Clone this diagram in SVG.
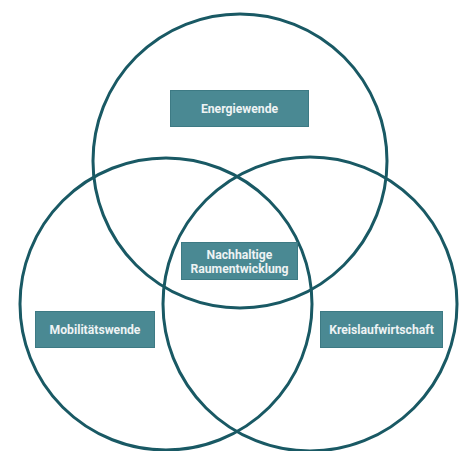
<svg xmlns="http://www.w3.org/2000/svg" width="465" height="451" viewBox="0 0 465 451">
  <style>
    .ring { fill: none; stroke: #195964; stroke-width: 3; }
    .box { fill: #4a8993; stroke: #3d7a84; stroke-width: 1; }
    .lbl { font-family: Roboto, "Liberation Sans", sans-serif; font-weight: bold; font-size: 12.2px; fill: #eef3f4; text-anchor: middle; }
  </style>
  <rect width="465" height="451" fill="#ffffff"/>
  <g id="connectors">
    <circle class="ring" cx="240" cy="161" r="147"/>
    <circle class="ring" cx="166" cy="304" r="146"/>
    <circle class="ring" cx="310" cy="304" r="147"/>
  </g>
  <g id="energiewende">
    <rect class="box" x="170.5" y="90.5" width="138" height="36"/>
    <text class="lbl" x="239.5" y="113">Energiewende</text>
  </g>
  <g id="raumentwicklung">
    <rect class="box" x="181.5" y="242.5" width="116" height="37"/>
    <text class="lbl" x="239.5" y="259">Nachhaltige</text>
    <text class="lbl" x="239.5" y="273">Raumentwicklung</text>
  </g>
  <g id="mobilitaetswende">
    <rect class="box" x="35.5" y="311.5" width="119" height="36"/>
    <text class="lbl" x="95" y="334">Mobilitätswende</text>
  </g>
  <g id="kreislaufwirtschaft">
    <rect class="box" x="320.5" y="311.5" width="122" height="36"/>
    <text class="lbl" x="381.5" y="334">Kreislaufwirtschaft</text>
  </g>
</svg>
